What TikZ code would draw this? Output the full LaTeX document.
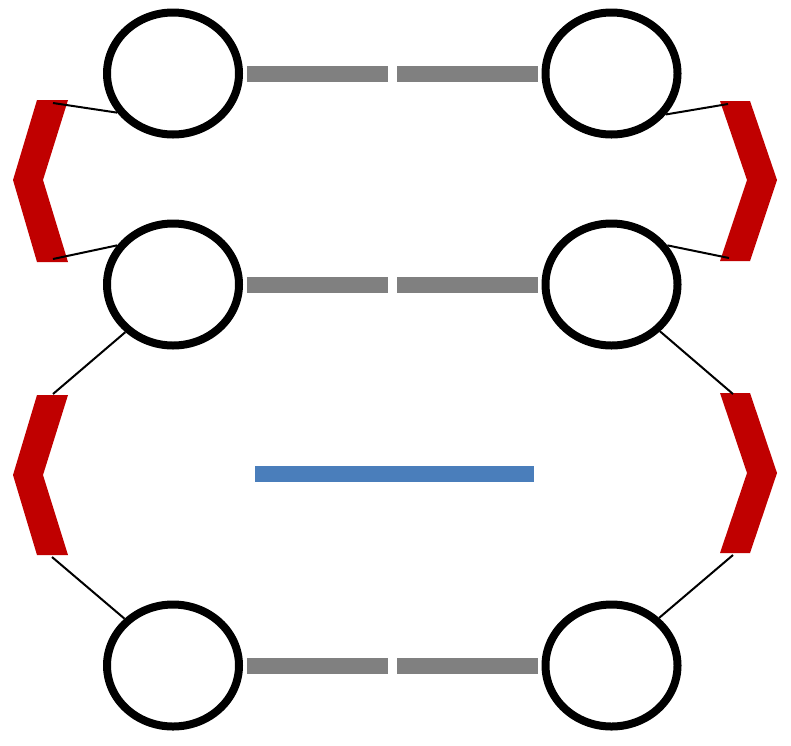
\documentclass[tikz,border=0pt]{standalone}
\usetikzlibrary{shapes.geometric}
\definecolor{chevred}{HTML}{C00000}
\definecolor{bargray}{HTML}{808080}
\definecolor{barblue}{HTML}{4A7EBB}
\begin{document}
\begin{tikzpicture}[x=1pt,y=-1pt,
  ring/.style={ellipse,draw=black,line width=8pt,minimum width=132pt,minimum height=122pt,inner sep=0pt},
  graybar/.style={draw=bargray,line width=16pt},
  bluebar/.style={draw=barblue,line width=16pt},
  chev/.style={fill=chevred,draw=none},
  link/.style={draw=black,line width=2pt}]
\useasboundingbox (0,0) rectangle (791,745);
% circles
\node[ring] (L1) at (173,73.5) {};
\node[ring] (R1) at (611.5,73.5) {};
\node[ring] (L2) at (173,284.5) {};
\node[ring] (R2) at (611.5,284.5) {};
\node[ring] (L3) at (173,665.5) {};
\node[ring] (R3) at (611.5,665.5) {};
% gap points of the gray bars
\coordinate (g1a) at (388,73.5); \coordinate (g1b) at (397,73.5);
\coordinate (g2a) at (388,284.5); \coordinate (g2b) at (397,284.5);
\coordinate (g3a) at (388,665.5); \coordinate (g3b) at (397,665.5);
\draw[graybar,shorten <=4pt] (L1.east) -- (g1a);
\draw[graybar,shorten >=4pt] (g1b) -- (R1.west);
\draw[graybar,shorten <=4pt] (L2.east) -- (g2a);
\draw[graybar,shorten >=4pt] (g2b) -- (R2.west);
\draw[graybar,shorten <=4pt] (L3.east) -- (g3a);
\draw[graybar,shorten >=4pt] (g3b) -- (R3.west);
% blue bar
\coordinate (b1) at (255,473.5); \coordinate (b2) at (534,473.5);
\draw[bluebar] (b1) -- (b2);
% red chevrons
\fill[chev] (37,100) -- (68,100) -- (43,180) -- (68,262) -- (37,262) -- (13,180) -- cycle;
\fill[chev] (37,395) -- (68,395) -- (43,475) -- (68,555) -- (37,555) -- (13,475) -- cycle;
\fill[chev] (720,101) -- (750,101) -- (777,180) -- (750,261) -- (720,261) -- (747,180) -- cycle;
\fill[chev] (720,393) -- (750,393) -- (777,473) -- (750,553) -- (720,553) -- (747,473) -- cycle;
% chevron end points
\coordinate (c1t) at (53,103); \coordinate (c1b) at (53,259);
\coordinate (c2t) at (53,394); \coordinate (c2b) at (52,557);
\coordinate (c3t) at (728,104); \coordinate (c3b) at (729,258);
\coordinate (c4t) at (733,394); \coordinate (c4b) at (733,555);
% thin links
\draw[link] (c1t) -- (L1.215);
\draw[link] (c1b) -- (L2.145);
\draw[link] (c2t) -- (L2.225);
\draw[link] (c2b) -- (L3.136);
\draw[link] (c3t) -- (R1.-37);
\draw[link] (c3b) -- (R2.35);
\draw[link] (c4t) -- (R2.-44);
\draw[link] (c4b) -- (R3.45);
\end{tikzpicture}
\end{document}
